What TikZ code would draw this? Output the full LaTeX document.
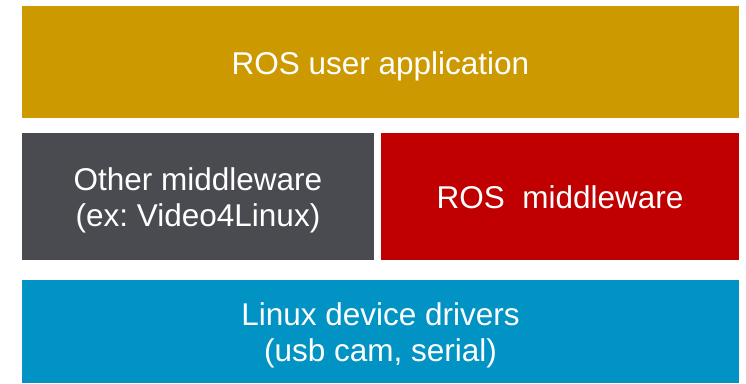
\documentclass[tikz,border=0pt]{standalone}
\usepackage{fontspec}
\setmainfont{Liberation Sans}
\frenchspacing
\definecolor{appgold}{RGB}{204,153,0}
\definecolor{midgray}{RGB}{74,75,80}
\definecolor{rosred}{RGB}{192,0,0}
\definecolor{drvblue}{RGB}{0,147,196}
\begin{document}
\begin{tikzpicture}[x=1pt,y=-1pt,
    layer/.style={inner sep=0pt,outer sep=0pt,text=white,align=center,
      font=\fontsize{31.5}{36}\selectfont,text depth=0pt},
    oneline/.style={text height=24.6pt},
    twoline/.style={text height=#1}]
  \useasboundingbox (0,0) rectangle (746,383);
  % top layer
  \node[layer,oneline,fill=appgold,minimum width=717pt,minimum height=112pt] (app) at (380.5,62) {ROS user application};
  % middle layer
  \node[layer,twoline=60pt,fill=midgray,minimum width=352pt,minimum height=127pt] (other) at (198,196.5) {Other middleware\\(ex: Video4Linux)};
  \node[layer,oneline,fill=rosred,minimum width=358pt,minimum height=127pt] (rosmw) at (560,196.5) {ROS~~middleware};
  % bottom layer
  \node[layer,twoline=59pt,fill=drvblue,minimum width=717pt,minimum height=103pt] (drv) at (380.5,331.5) {Linux device drivers\\(usb cam, serial)};
\end{tikzpicture}
\end{document}
